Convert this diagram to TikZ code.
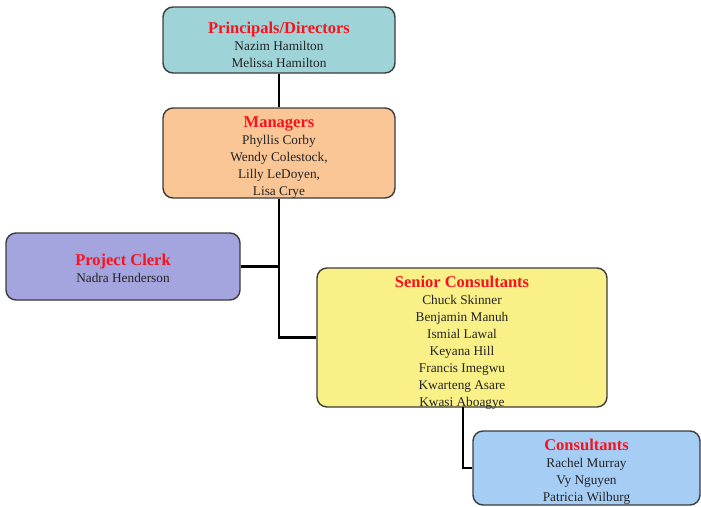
\documentclass[tikz,border=0pt]{standalone}
\usepackage{fontspec}
\setmainfont{Liberation Serif}
\definecolor{ttl}{RGB}{245,20,30}
\definecolor{nm}{RGB}{35,35,35}
\definecolor{edge}{RGB}{60,60,60}
\definecolor{cteal}{RGB}{158,212,216}
\definecolor{cpeach}{RGB}{250,198,150}
\definecolor{clav}{RGB}{164,164,222}
\definecolor{cyel}{RGB}{249,240,135}
\definecolor{cblue}{RGB}{166,206,245}
% heading line of a box
\newcommand{\hd}[1]{{\color{ttl}\bfseries\fontsize{16.5}{17}\selectfont #1}\\}
\begin{document}
\begin{tikzpicture}[x=1pt,y=-1pt,
  unit/.style={draw=edge, line width=1.4pt, rounded corners=10pt, inner sep=0pt},
  names/.style={align=center, text=nm, font=\fontsize{13.3}{17}\selectfont, inner sep=0pt},
  link/.style={line width=2.6pt, black}]
\useasboundingbox (0,0) rectangle (701,506);
% boxes
\node[unit, fill=cteal, minimum width=232pt, minimum height=66pt] (p) at (279,40) {};
\node[unit, fill=cpeach, minimum width=232pt, minimum height=90pt] (m) at (279,153) {};
\node[unit, fill=clav, minimum width=234pt, minimum height=67pt] (c) at (123,266.5) {};
\node[unit, fill=cyel, minimum width=290pt, minimum height=139pt] (s) at (462,337.5) {};
\node[unit, fill=cblue, minimum width=227pt, minimum height=74pt] (k) at (586.5,468) {};
% texts
\node[names] (pt) at ([yshift=-4.5pt]p.center)
  {\hd{Principals/Directors}Nazim Hamilton\\Melissa Hamilton};
\node[names] (mt) at ([yshift=-4.5pt]m.center)
  {\hd{Managers}Phyllis Corby\\Wendy Colestock,\\Lilly LeDoyen,\\Lisa Crye};
\node[names] (ct) at ([yshift=-2pt]c.center)
  {\hd{Project Clerk}Nadra Henderson};
\node[names] (st) at ([yshift=-5pt]s.center)
  {\hd{Senior Consultants}Chuck Skinner\\Benjamin Manuh\\Ismial Lawal\\Keyana Hill\\Francis Imegwu\\Kwarteng Asare\\Kwasi Aboagye};
\node[names] (kt) at ([yshift=-4pt]k.center)
  {\hd{Consultants}Rachel Murray\\Vy Nguyen\\Patricia Wilburg};
% connectors
\coordinate (sb) at (463,407);
\draw[link] (p.south) -- (m.north);
\draw[link] (m.south) |- (s.west);
\draw[link] (c.east) -- (m.south |- c.east);
\draw[link] (sb) |- (k.west);
\end{tikzpicture}
\end{document}
